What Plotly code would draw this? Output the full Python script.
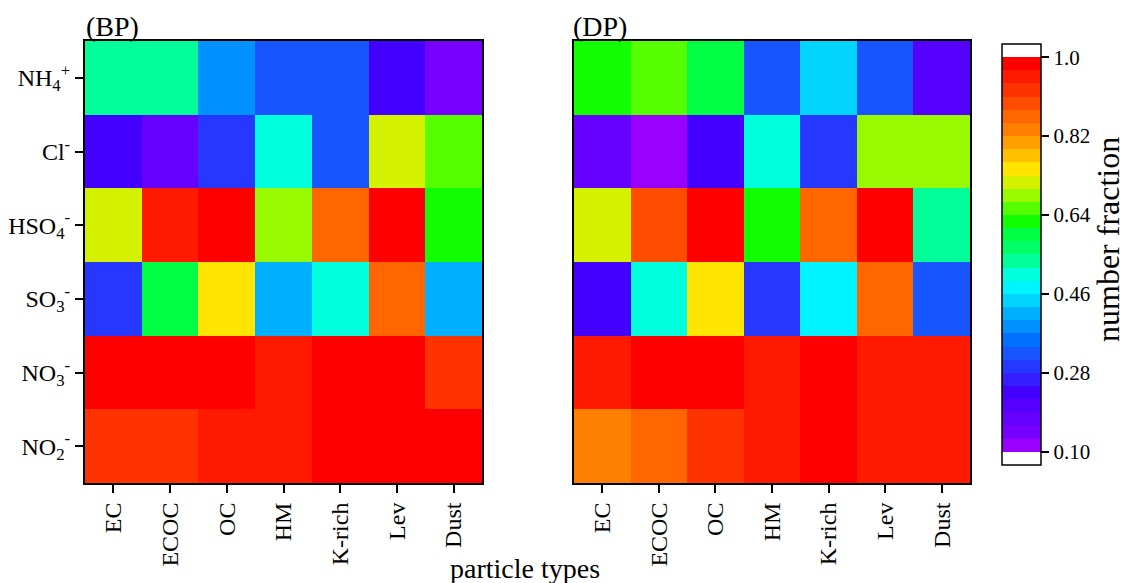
import plotly.graph_objects as go

particle_types = ["EC", "ECOC", "OC", "HM", "K-rich", "Lev", "Dust"]
ions = ["NH<sub>4</sub><sup>+</sup>", "Cl<sup>-</sup>", "HSO<sub>4</sub><sup>-</sup>",
        "SO<sub>3</sub><sup>-</sup>", "NO<sub>3</sub><sup>-</sup>", "NO<sub>2</sub><sup>-</sup>"]

# number fraction (rows = ions, columns = particle types)
bp_values = [
    [0.535, 0.535, 0.385, 0.325, 0.325, 0.235, 0.145],
    [0.235, 0.175, 0.295, 0.505, 0.325, 0.715, 0.655],
    [0.715, 0.955, 0.985, 0.685, 0.865, 0.985, 0.625],
    [0.295, 0.595, 0.745, 0.415, 0.505, 0.865, 0.415],
    [0.985, 0.985, 0.985, 0.955, 0.985, 0.985, 0.925],
    [0.925, 0.925, 0.955, 0.955, 0.985, 0.985, 0.985],
]
dp_values = [
    [0.625, 0.655, 0.595, 0.325, 0.445, 0.325, 0.205],
    [0.175, 0.115, 0.235, 0.505, 0.295, 0.685, 0.685],
    [0.715, 0.895, 0.985, 0.625, 0.865, 0.985, 0.535],
    [0.235, 0.505, 0.745, 0.295, 0.475, 0.865, 0.325],
    [0.955, 0.985, 0.985, 0.955, 0.985, 0.955, 0.955],
    [0.835, 0.865, 0.925, 0.955, 0.985, 0.955, 0.955],
]

cbar_ticks = [0.10, 0.28, 0.46, 0.64, 0.82, 1.0]
cbar_ticktext = ["0.10", "0.28", "0.46", "0.64", "0.82", "1.0"]

# 30 palette bins from 0.10 (bottom) to 1.0 (top)
palette = [
    "#9900FF", "#7700FF", "#6600FF", "#5500FF", "#4400FF", "#3420FF",
    "#2638FF", "#1655FF", "#0070FF", "#0090FF", "#00B0FF", "#00D4FF",
    "#00F4FF", "#00FFDD", "#00FF99", "#00FF66", "#00FF44", "#11FF00",
    "#55FF00", "#99F900", "#D4F200", "#FFE500", "#FFC000", "#FFA000",
    "#FF8000", "#FF6600", "#FF4D00", "#FF3300", "#FF1A00", "#FF0000",
]

zmin, zmax = 0.07, 1.03
bins = ["#FFFFFF"] + palette + ["#FFFFFF"]
n = len(bins)
colorscale = []
for i, c in enumerate(bins):
    colorscale.append([i / n, c])
    colorscale.append([(i + 1) / n, c])

W, H = 1129, 583
def px_x(a, b):
    return [a / W, b / W]
def px_y(top, bottom):
    return [1 - bottom / H, 1 - top / H]

font_family = "Liberation Serif, Times New Roman, serif"

fig = go.Figure()
fig.add_trace(go.Heatmap(z=bp_values, x=particle_types, y=ions, coloraxis="coloraxis",
                         xaxis="x", yaxis="y", hoverinfo="skip"))
fig.add_trace(go.Heatmap(z=dp_values, x=particle_types, y=ions, coloraxis="coloraxis",
                         xaxis="x2", yaxis="y2", hoverinfo="skip"))

axis_common = dict(showline=True, linecolor="black", linewidth=2, mirror=True,
                   ticks="outside", ticklen=8, tickwidth=2, tickcolor="black",
                   showgrid=False, zeroline=False,
                   tickfont=dict(family=font_family, size=24, color="black"))

fig.update_layout(
    width=W, height=H,
    margin=dict(l=0, r=0, t=0, b=0),
    paper_bgcolor="white", plot_bgcolor="white",
    font=dict(family=font_family, color="black"),
    xaxis=dict(domain=px_x(85, 482), anchor="y", tickangle=-90, **axis_common),
    yaxis=dict(domain=px_y(41, 483), anchor="x", autorange="reversed", **axis_common),
    xaxis2=dict(domain=px_x(574, 970), anchor="y2", tickangle=-90, **axis_common),
    yaxis2=dict(domain=px_y(41, 483), anchor="x2", autorange="reversed",
                **{**axis_common, "ticks": "", "showticklabels": False}),
    coloraxis=dict(
        colorscale=colorscale, cmin=zmin, cmax=zmax,
        colorbar=dict(
            x=1002 / W, xanchor="left", xpad=0,
            y=1 - 254.5 / H, yanchor="middle", ypad=0,
            len=(465 - 44) / H, lenmode="fraction",
            thickness=39, thicknessmode="pixels",
            outlinecolor="black", outlinewidth=1.5,
            tickvals=cbar_ticks, ticktext=cbar_ticktext,
            ticks="outside", ticklen=8, tickwidth=1.5, tickcolor="black",
            tickfont=dict(family=font_family, size=21, color="black"),
        ),
    ),
    annotations=[
        dict(text="(BP)", x=84 / W, y=1 - 26 / H, xref="paper", yref="paper",
             xanchor="left", yanchor="middle", showarrow=False,
             font=dict(family=font_family, size=28, color="black")),
        dict(text="(DP)", x=571 / W, y=1 - 26 / H, xref="paper", yref="paper",
             xanchor="left", yanchor="middle", showarrow=False,
             font=dict(family=font_family, size=28, color="black")),
        dict(text="particle types", x=525 / W, y=1 - 568 / H, xref="paper", yref="paper",
             xanchor="center", yanchor="middle", showarrow=False,
             font=dict(family=font_family, size=28, color="black")),
        dict(text="number fraction", x=1108 / W, y=1 - 240 / H, xref="paper", yref="paper",
             xanchor="center", yanchor="middle", showarrow=False, textangle=-90,
             font=dict(family=font_family, size=32, color="black")),
    ],
)

fig.write_html("out.html")
